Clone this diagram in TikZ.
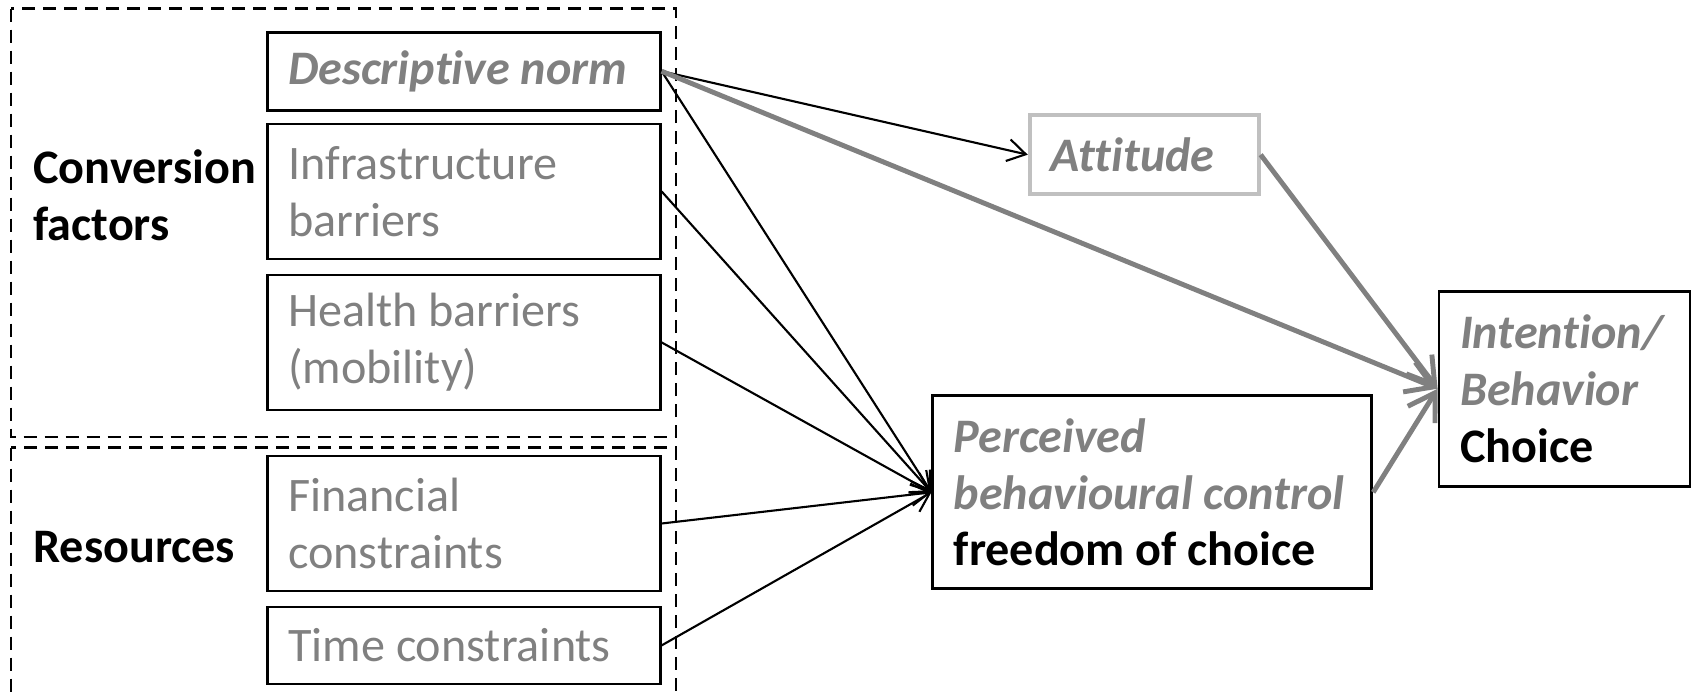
\documentclass[tikz,border=0pt]{standalone}
\usepackage{fontspec}
\setmainfont{Carlito}[Ligatures=NoCommon]
\usetikzlibrary{arrows.meta}
\definecolor{txtgray}{HTML}{808080}
\definecolor{rimgray}{HTML}{C0C0C0}
\newcommand\diagfont{\fontsize{13.7}{16.2}\selectfont}

\begin{document}
\begin{tikzpicture}[>={Straight Barb[length=1.8mm,width=2.2mm]},line width=0.6pt,
  font=\diagfont,
  box/.style={draw,line width=0.8pt,inner xsep=2.1mm,inner ysep=0pt,align=flush left,text=txtgray},
  grp/.style={draw,dash pattern=on 1.3mm off 0.8mm,line width=0.7pt},
  thinarr/.style={->,black,line width=0.6pt},
  thickarr/.style={-{Straight Barb[length=2.6mm,width=3.2mm]},txtgray,line width=1.4pt}]
  \clip (0,0) rectangle (16.91,-6.98);

  % 虚线分组框
  \draw[grp] (0.108,-0.086) rectangle (6.76,-4.368);
  \draw[grp] (0.108,-4.475) rectangle (6.76,-7.3);

  % 分组标注
  \node[anchor=west,align=left,inner sep=0pt,font=\diagfont\bfseries] (conv) at (0.324,-1.95) {Conversion\\factors};
  \node[anchor=west,inner sep=0pt,font=\diagfont\bfseries] (res) at (0.324,-5.47) {Resources};

  % 左侧方框
  \node[box,text width=3.51cm,minimum height=0.78cm] (dn) at (4.637,-0.712) {\bfseries\itshape Descriptive norm};
  \node[box,text width=3.51cm,minimum height=1.35cm] (ib) at (4.637,-1.914) {Infrastructure\\barriers};
  \node[box,text width=3.51cm,minimum height=1.35cm] (hb) at (4.637,-3.424) {Health barriers\\(mobility)};
  \node[box,text width=3.51cm,minimum height=1.35cm] (fc) at (4.637,-5.235) {Financial\\constraints};
  \node[box,text width=3.51cm,minimum height=0.77cm] (tc) at (4.637,-6.454) {Time constraints};

  % 右侧方框
  \node[box,draw=rimgray,line width=1.1pt,text width=1.87cm,minimum height=0.79cm] (att) at (11.442,-1.547) {\bfseries\itshape Attitude};
  \node[box,text width=3.97cm,minimum height=1.93cm] (pbc) at (11.523,-4.923) {\bfseries\itshape Perceived\\behavioural control\\\upshape\color{black} freedom of choice};
  \node[box,text width=2.09cm,minimum height=1.95cm] (intb) at (15.645,-3.887) {\bfseries\itshape Intention/\\Behavior\\\upshape\color{black} Choice};

  % 细箭头
  \draw[thinarr] (dn.east) -- (att.west);
  \draw[thinarr] (dn.east) -- (pbc.west);
  \draw[thinarr] (ib.east) -- (pbc.west);
  \draw[thinarr] (hb.east) -- (pbc.west);
  \draw[thinarr] (fc.east) -- (pbc.west);
  \draw[thinarr] (tc.east) -- (pbc.west);

  % 粗灰箭头
  \draw[thickarr] (dn.east) -- (intb.west);
  \draw[thickarr] (att.east) -- (intb.west);
  \draw[thickarr] (pbc.east) -- (intb.west);
\end{tikzpicture}
\end{document}
